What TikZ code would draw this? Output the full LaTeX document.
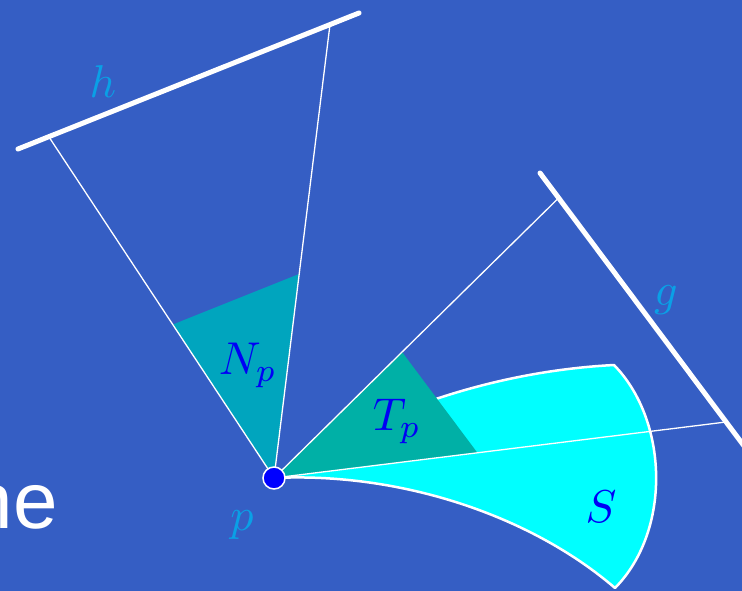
\documentclass[tikz,border=0pt]{standalone}
\usepackage{fontspec}
\newfontfamily\hefont{Liberation Sans}
\usetikzlibrary{calc}
\definecolor{bgblue}{RGB}{53,94,196}
\definecolor{npfill}{RGB}{0,165,190}
\definecolor{tpfill}{RGB}{0,176,166}
\definecolor{sfill}{RGB}{0,255,255}
\definecolor{lablight}{RGB}{10,160,230}
\definecolor{labdark}{RGB}{0,0,245}
\tikzset{
  thinline/.style={draw=white, line width=1.3pt},
  thickline/.style={draw=white, line width=5pt, line cap=round},
  lightlab/.style={text=lablight, scale=4.6},
  darklab/.style={text=labdark, scale=4.6},
}
\begin{document}
\begin{tikzpicture}[x=1pt, y=-1pt]
\fill[bgblue] (0,0) rectangle (742,591);
\useasboundingbox (0,0) rectangle (742,591);
% key points
\coordinate (p) at (274,478);
\coordinate (hA) at (18,149);
\coordinate (hB) at (359,13);
\coordinate (hL) at (49,137);
\coordinate (hR) at (330,24.5);
\coordinate (gA) at (540,173);
\coordinate (gB) at (762,470);
\coordinate (gU) at (558.6,198);
\coordinate (gL) at (726,422);
% S region
\filldraw[fill=sfill, draw=white, line width=2.5pt, line join=round]
  (p) .. controls (400,472) and (530,515) .. (615,588)
      .. controls (672,530) and (668,420) .. (614,365)
      .. controls (480,372) and (360,420) .. (p) -- cycle;
% T_p triangle
\fill[tpfill] (p) -- ($(p)!0.45!(gU)$) -- ($(p)!0.45!(gL)$) -- cycle;
% N_p triangle
\fill[npfill] (p) -- ($(p)!0.45!(hL)$) -- ($(p)!0.45!(hR)$) -- cycle;
% thin lines
\draw[thinline] (p) -- (hL);
\draw[thinline] (p) -- (hR);
\draw[thinline] (p) -- (gU);
\draw[thinline] (p) -- (gL);
% thick lines
\draw[thickline] (hA) -- (hB);
\draw[thickline] (gA) -- (gB);
% point p
\node[circle, fill=blue, draw=white, line width=1.5pt, minimum size=22pt, inner sep=0pt] (pdot) at (p) {};
% labels
\node[lightlab] (lh) at (103,82) {$h$};
\node[lightlab] (lg) at (666,300) {$g$};
\node[lightlab] (lp) at (242,525) {$p$};
\node[darklab] (lnp) at (248,365) {$N_p$};
\node[darklab] (ltp) at (397,421) {$T_p$};
\node[darklab] (ls) at (601,507) {$S$};
\node[text=white, anchor=base east, inner sep=0pt, font=\hefont\fontsize{80}{90}\selectfont] (he) at (58,528) {he};
\end{tikzpicture}
\end{document}
